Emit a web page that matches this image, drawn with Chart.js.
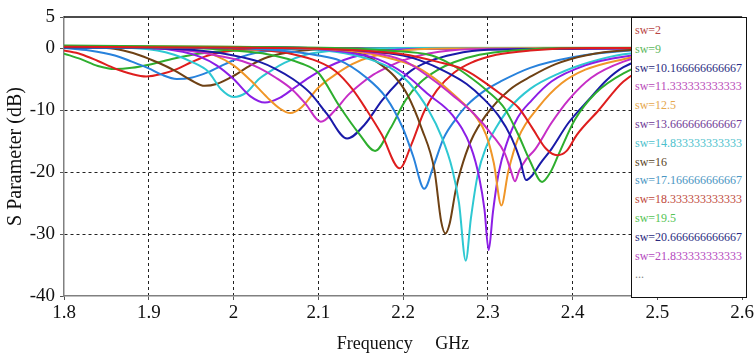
<!DOCTYPE html>
<html>
<head>
<meta charset="utf-8">
<script src="https://cdn.jsdelivr.net/npm/chart.js@4.4.1/dist/chart.umd.min.js"></script>
<style>
  html, body { margin: 0; padding: 0; background: #fff; }
  #wrap { position: relative; width: 756px; height: 353px; }
  #legend {
    position: absolute; left: 631px; top: 17px; width: 116px; height: 281px;
    box-sizing: border-box; border: 1.5px solid #111; background: #fff;
    padding: 3px 0 0 3px;
    font-family: "Liberation Serif", "Times New Roman", serif; font-size: 12px; line-height: 18.8px;
    white-space: nowrap; overflow: hidden;
  }
</style>
</head>
<body>
<div id="wrap">
  <canvas id="chart" width="756" height="353"></canvas>
  <div id="legend"></div>
</div>
<script>
// tick values
const xTicks = [1.8, 1.9, 2.0, 2.1, 2.2, 2.3, 2.4, 2.5, 2.6];
const yTicks = [-40, -30, -20, -10, 0, 5];

// sweep labels (sw), in legend order
const swLabels = ['sw=2', 'sw=9', 'sw=10.166666666667', 'sw=11.333333333333', 'sw=12.5',
  'sw=13.666666666667', 'sw=14.833333333333', 'sw=16', 'sw=17.166666666667', 'sw=18.333333333333',
  'sw=19.5', 'sw=20.666666666667', 'sw=21.833333333333', 'sw=23', 'sw=24.166666666667',
  'sw=25.333333333333', 'sw=26.5', 'sw=27.666666666667', 'sw=28.833333333333', 'sw=30'];

// line colours cycle
const lineColors = ['#de1e1e', '#2eae2e', '#1a1aa8', '#c62ec6', '#f09628', '#8c1ee6', '#2ec8d2', '#6e4114', '#2882dc'];
const legendColors = ['#b84444', '#5cb85c', '#2b2b80', '#b84ab8', '#e6a84e', '#6f3a96', '#4cbfcc', '#5a4526', '#4a96c2',
  '#c04a3c', '#55c455', '#2a2a7e', '#b448be'];

// S11 (dB) traces, [GHz, dB]
const sw2 = [[1.8,0.2],[1.95,0.1],[2.1,-0.1],[2.2,-1.0],[2.24,-2.2],[2.274,-3.6],[2.3,-5.9],[2.315,-7.4],[2.336,-9.6],[2.352,-12.8],[2.369,-16.3],[2.382,-17.3],[2.393,-16.6],[2.405,-14.0],[2.431,-10.0],[2.46,-5.4],[2.5,-2.4],[2.55,-0.9],[2.6,-0.4]];
const sw9 = [[1.8,0.4],[2.0,0.2],[2.12,0],[2.18,-0.4],[2.234,-1.2],[2.255,-2.5],[2.274,-4.2],[2.3,-7.0],[2.32,-9.8],[2.336,-14.0],[2.35,-18.3],[2.364,-21.6],[2.374,-20.0],[2.384,-17.0],[2.403,-11.5],[2.427,-7.3],[2.46,-4.1],[2.5,-2.0],[2.6,-0.4]];
const sw10 = [[1.8,0.1],[2.05,0.1],[2.15,-0.4],[2.2,-1.2],[2.22,-2.0],[2.25,-3.8],[2.275,-5.8],[2.295,-8.2],[2.313,-11.0],[2.328,-14.5],[2.338,-18.0],[2.345,-21.3],[2.352,-20.6],[2.362,-18.6],[2.375,-16.3],[2.395,-12.1],[2.422,-7.9],[2.44,-5.2],[2.46,-3.1],[2.5,-1.2],[2.6,-0.3]];
const sw11 = [[1.8,0.2],[2.05,0.1],[2.15,-0.5],[2.2,-2.0],[2.234,-5.0],[2.26,-7.8],[2.285,-10.8],[2.305,-14.0],[2.32,-17.0],[2.327,-19.7],[2.332,-21.5],[2.337,-19.8],[2.345,-18.0],[2.356,-16.3],[2.375,-12.1],[2.395,-8.4],[2.422,-4.8],[2.46,-2.2],[2.5,-0.9],[2.6,-0.2]];
const sw12 = [[1.8,0.3],[2.05,0.1],[2.14,-0.5],[2.18,-1.5],[2.215,-3.0],[2.235,-4.7],[2.254,-6.8],[2.27,-8.8],[2.286,-11.1],[2.298,-14.0],[2.307,-18.5],[2.316,-25.4],[2.324,-20.0],[2.336,-14.5],[2.36,-9.5],[2.387,-5.7],[2.415,-3.5],[2.46,-1.8],[2.5,-0.8],[2.6,-0.2]];
const sw13 = [[1.8,0.2],[2.05,0.1],[2.13,-0.6],[2.17,-1.8],[2.2,-4.0],[2.23,-7.5],[2.258,-10.8],[2.28,-16.0],[2.29,-21.0],[2.296,-26.0],[2.301,-32.6],[2.306,-26.5],[2.313,-20.0],[2.322,-15.5],[2.335,-11.3],[2.352,-8.4],[2.375,-5.4],[2.415,-2.8],[2.46,-1.4],[2.6,-0.2]];
const sw14 = [[1.8,0.1],[2.05,0],[2.12,-0.6],[2.16,-1.8],[2.19,-3.6],[2.207,-5.6],[2.23,-10.0],[2.246,-14.5],[2.258,-19.5],[2.266,-25.0],[2.274,-34.3],[2.28,-27.5],[2.288,-20.5],[2.298,-16.0],[2.31,-12.8],[2.325,-9.8],[2.35,-6.6],[2.384,-4.1],[2.42,-2.3],[2.46,-1.0],[2.6,-0.1]];
const sw16 = [[1.8,0.2],[2.05,0],[2.12,-0.4],[2.155,-1.2],[2.175,-2.8],[2.19,-4.6],[2.205,-7.5],[2.222,-13.0],[2.237,-19.7],[2.245,-28.0],[2.25,-29.9],[2.255,-28.3],[2.262,-23.0],[2.268,-19.7],[2.28,-15.0],[2.297,-11.0],[2.325,-6.8],[2.352,-4.5],[2.38,-2.6],[2.415,-1.2],[2.46,-0.4],[2.6,0]];
const sw17 = [[1.8,0.1],[2.0,0],[2.06,-0.5],[2.1,-1.2],[2.125,-2.0],[2.155,-4.6],[2.18,-8.0],[2.2,-13.0],[2.212,-17.5],[2.225,-22.7],[2.236,-19.0],[2.248,-14.5],[2.262,-11.5],[2.275,-9.3],[2.295,-7.0],[2.315,-5.4],[2.35,-3.2],[2.4,-1.5],[2.46,-0.5],[2.6,0]];
const sw18 = [[1.8,0.2],[1.95,0.1],[2.03,-0.3],[2.07,-1.0],[2.1,-2.2],[2.12,-3.7],[2.14,-6.6],[2.157,-10.0],[2.175,-14.0],[2.196,-19.4],[2.21,-15.5],[2.225,-10.2],[2.24,-6.8],[2.26,-4.0],[2.28,-2.4],[2.31,-1.1],[2.35,-0.4],[2.42,0],[2.6,0]];
const sw19 = [[1.8,0.1],[1.95,0],[2.0,-0.4],[2.04,-1.0],[2.08,-2.5],[2.1,-4.0],[2.125,-9.4],[2.148,-13.8],[2.167,-16.6],[2.185,-13.0],[2.203,-8.4],[2.22,-5.6],[2.24,-3.6],[2.26,-2.3],[2.29,-1.1],[2.33,-0.4],[2.4,0],[2.6,0]];
const sw20 = [[1.8,0.2],[1.9,0],[1.96,-0.4],[2.0,-1.2],[2.03,-2.2],[2.05,-3.4],[2.07,-5.0],[2.09,-7.2],[2.11,-10.6],[2.134,-14.6],[2.155,-12.3],[2.175,-8.5],[2.195,-5.4],[2.21,-3.6],[2.23,-2.2],[2.26,-1.0],[2.3,-0.3],[2.6,0]];
const sw21 = [[1.8,0.1],[1.9,0],[1.95,-0.5],[1.98,-1.2],[2.01,-2.1],[2.03,-3.2],[2.05,-4.8],[2.07,-6.8],[2.085,-9.0],[2.103,-11.9],[2.12,-10.0],[2.135,-7.6],[2.15,-5.8],[2.165,-4.3],[2.18,-3.2],[2.2,-2.0],[2.23,-0.9],[2.28,-0.2],[2.6,0]];
const sw23 = [[1.8,0.2],[1.9,0.1],[1.95,-0.3],[1.98,-1.3],[2.0,-2.8],[2.02,-5.2],[2.04,-8.0],[2.055,-9.8],[2.067,-10.5],[2.08,-9.6],[2.1,-6.4],[2.12,-4.3],[2.14,-2.6],[2.16,-1.5],[2.19,-0.6],[2.25,-0.1],[2.6,0]];
const sw24 = [[1.8,0.1],[1.9,0],[1.94,-0.6],[1.96,-1.4],[1.98,-2.8],[2.0,-5.0],[2.02,-7.8],[2.037,-8.8],[2.055,-8.0],[2.07,-6.6],[2.09,-4.7],[2.105,-3.5],[2.12,-2.5],[2.14,-1.5],[2.17,-0.6],[2.22,-0.15],[2.6,0]];
const sw25 = [[1.8,0.2],[1.88,0],[1.91,-0.4],[1.93,-1.1],[1.95,-2.2],[1.97,-3.8],[1.985,-6.6],[2.0,-7.9],[2.015,-7.2],[2.03,-5.0],[2.045,-3.6],[2.06,-2.4],[2.085,-1.1],[2.12,-0.4],[2.2,0],[2.6,0]];
const sw26 = [[1.8,0.1],[1.85,0],[1.87,-0.4],[1.89,-1.2],[1.91,-2.3],[1.93,-3.6],[1.95,-5.2],[1.966,-6.1],[1.98,-5.8],[2.0,-4.5],[2.02,-2.8],[2.04,-1.5],[2.07,-0.6],[2.12,-0.15],[2.6,0]];
const sw27 = [[1.8,0],[1.83,-0.4],[1.86,-1.2],[1.88,-2.2],[1.9,-3.3],[1.915,-4.3],[1.933,-5.0],[1.95,-4.8],[1.97,-3.9],[1.99,-2.6],[2.01,-1.4],[2.04,-0.5],[2.1,-0.1],[2.6,0]];
const sw28 = [[1.8,-0.4],[1.82,-1.0],[1.84,-2.1],[1.86,-3.3],[1.88,-4.2],[1.897,-4.6],[1.915,-4.2],[1.933,-3.4],[1.95,-2.3],[1.97,-1.2],[2.0,-0.4],[2.05,-0.1],[2.15,0],[2.6,0]];
const sw30 = [[1.8,-0.9],[1.82,-1.8],[1.84,-2.9],[1.86,-3.4],[1.88,-3.2],[1.9,-2.7],[1.93,-1.7],[1.96,-0.9],[2.0,-0.35],[2.05,-0.1],[2.15,0],[2.6,0.05]];

const traces = [sw2, sw9, sw10, sw11, sw12, sw13, sw14, sw16, sw17, sw18, sw19, sw20, sw21, sw23, sw24, sw25, sw26, sw27, sw28, sw30];

const datasets = traces.map((pts, i) => ({
  label: swLabels[i],
  data: pts.map(p => ({ x: p[0], y: p[1] })),
  borderColor: lineColors[i % lineColors.length],
  borderWidth: 2,
  pointRadius: 0,
  fill: false,
  cubicInterpolationMode: 'monotone'
}));

// legend box (only the first 13 entries are visible, then "...")
const legendEl = document.getElementById('legend');
legendColors.forEach((c, i) => {
  const d = document.createElement('div');
  d.textContent = swLabels[i];
  d.style.color = c;
  legendEl.appendChild(d);
});
const more = document.createElement('div');
more.textContent = '...';
more.style.color = '#888';
legendEl.appendChild(more);

// solid frame line along the top of the plot
const topFrame = {
  id: 'topFrame',
  afterDraw(chart) {
    const { ctx, chartArea: a } = chart;
    ctx.save();
    ctx.strokeStyle = '#111';
    ctx.lineWidth = 1.5;
    ctx.beginPath();
    ctx.moveTo(a.left, a.top);
    ctx.lineTo(a.right, a.top);
    ctx.stroke();
    ctx.restore();
  }
};

Chart.defaults.font.family = '"Liberation Serif", "Times New Roman", serif';

const clear = 'rgba(0,0,0,0)';
new Chart(document.getElementById('chart').getContext('2d'), {
  type: 'line',
  data: { datasets },
  options: {
    responsive: false,
    animation: false,
    layout: { padding: { top: 17, right: 12, left: 0, bottom: 0 } },
    plugins: { legend: { display: false }, tooltip: { enabled: false } },
    scales: {
      x: {
        type: 'linear',
        min: 1.8,
        max: 2.6,
        afterBuildTicks: s => { s.ticks = xTicks.map(v => ({ value: v })); },
        afterFit: s => { s.height = 57; },
        ticks: {
          color: '#111',
          font: { size: 19 },
          padding: 2,
          maxRotation: 0,
          autoSkip: false,
          callback: v => String(+v.toFixed(1))
        },
        grid: {
          color: c => (c.tick && (c.tick.value === 1.8 || c.tick.value === 2.6)) ? clear : '#222',
          lineWidth: 1,
          tickLength: 4,
          tickColor: '#555'
        },
        border: { color: '#808080', width: 1.5, dash: [3, 3] },
        title: {
          display: true,
          text: 'Frequency\u00a0\u00a0\u00a0\u00a0\u00a0GHz',
          color: '#111',
          font: { size: 18, lineHeight: 1 },
          padding: { top: 0, bottom: 0 }
        }
      },
      y: {
        min: -40,
        max: 5,
        afterBuildTicks: s => { s.ticks = yTicks.map(v => ({ value: v })); },
        afterFit: s => { s.width = 64; },
        ticks: { color: '#111', font: { size: 19 }, padding: 5, autoSkip: false },
        grid: {
          color: c => (c.tick && (c.tick.value === -40 || c.tick.value === 5)) ? clear : '#222',
          lineWidth: 1,
          tickLength: 4,
          tickColor: '#555'
        },
        border: { color: '#808080', width: 1.5, dash: [3, 3] },
        title: {
          display: true,
          text: 'S Parameter (dB)',
          color: '#111',
          font: { size: 20 }
        }
      }
    }
  },
  plugins: [topFrame]
});
</script>
</body>
</html>
